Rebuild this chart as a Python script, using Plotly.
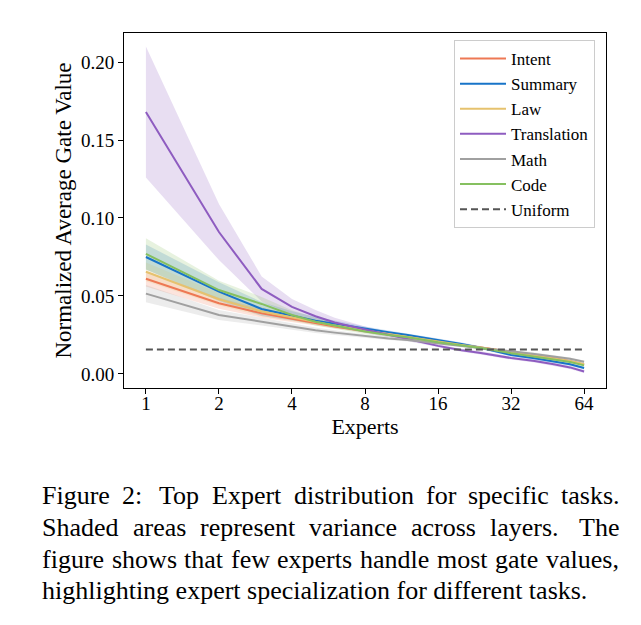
import plotly.graph_objects as go

# ---------------- data ----------------
experts = [1, 2, 3, 4, 5, 6, 8, 10, 12, 16, 20, 24, 32, 40, 48, 56, 64]

intent = [0.0610, 0.0453, 0.0389, 0.0355, 0.0325, 0.0305, 0.0275, 0.0253, 0.0238, 0.0205,
          0.0185, 0.0170, 0.0138, 0.0118, 0.0100, 0.0082, 0.0060]
summary = [0.0750, 0.0528, 0.0417, 0.0372, 0.0342, 0.0322, 0.0290, 0.0267, 0.0250, 0.0218,
           0.0192, 0.0168, 0.0122, 0.0100, 0.0080, 0.0062, 0.0038]
law = [0.0655, 0.0479, 0.0400, 0.0362, 0.0330, 0.0310, 0.0278, 0.0255, 0.0240, 0.0207,
       0.0186, 0.0170, 0.0139, 0.0119, 0.0100, 0.0083, 0.0062]
translation = [0.1680, 0.0910, 0.0545, 0.0430, 0.0370, 0.0330, 0.0285, 0.0250, 0.0225, 0.0180,
               0.0152, 0.0135, 0.0102, 0.0083, 0.0062, 0.0042, 0.0016]
math_ = [0.0515, 0.0378, 0.0335, 0.0303, 0.0280, 0.0265, 0.0242, 0.0228, 0.0218, 0.0198,
         0.0180, 0.0168, 0.0145, 0.0128, 0.0112, 0.0097, 0.0078]
code = [0.0770, 0.0538, 0.0449, 0.0378, 0.0335, 0.0310, 0.0272, 0.0250, 0.0235, 0.0203,
        0.0183, 0.0167, 0.0133, 0.0113, 0.0093, 0.0077, 0.0055]

# spread across layers (half-width of shaded band)
intent_sd = [0.0050, 0.0035, 0.0028, 0.0022, 0.0018, 0.0015, 0.0012, 0.0010, 0.0010, 0.0009,
             0.0008, 0.0008, 0.0008, 0.0008, 0.0008, 0.0008, 0.0008]
summary_sd = [0.0080, 0.0060, 0.0045, 0.0030, 0.0025, 0.0020, 0.0015, 0.0012, 0.0011, 0.0010,
              0.0009, 0.0009, 0.0009, 0.0009, 0.0009, 0.0009, 0.0009]
law_sd = [0.0060, 0.0040, 0.0030, 0.0024, 0.0019, 0.0016, 0.0013, 0.0011, 0.0010, 0.0009,
          0.0008, 0.0008, 0.0008, 0.0008, 0.0008, 0.0008, 0.0008]
translation_sd = [0.0420, 0.0180, 0.0080, 0.0050, 0.0040, 0.0030, 0.0020, 0.0015, 0.0012, 0.0010,
                  0.0010, 0.0010, 0.0010, 0.0010, 0.0010, 0.0010, 0.0010]
math_sd = [0.0055, 0.0032, 0.0025, 0.0020, 0.0018, 0.0015, 0.0012, 0.0011, 0.0010, 0.0009,
           0.0009, 0.0009, 0.0009, 0.0009, 0.0009, 0.0009, 0.0009]
code_sd = [0.0100, 0.0060, 0.0045, 0.0030, 0.0025, 0.0020, 0.0015, 0.0012, 0.0011, 0.0010,
           0.0009, 0.0009, 0.0009, 0.0009, 0.0009, 0.0009, 0.0009]

uniform_x = [1, 64]
uniform_y = [1 / 64, 1 / 64]

x_ticks = [1, 2, 4, 8, 16, 32, 64]
y_ticks = [0.00, 0.05, 0.10, 0.15, 0.20]

caption_lines = [
    "Figure 2:  Top Expert distribution for specific tasks.",
    "Shaded areas represent variance across layers.  The",
    "figure shows that few experts handle most gate values,",
    "highlighting expert specialization for different tasks.",
]

# ---------------- styling ----------------
FONT = "Liberation Serif, Times New Roman, serif"
series = [
    ("Intent", intent, intent_sd, (238, 120, 84)),
    ("Summary", summary, summary_sd, (24, 116, 200)),
    ("Law", law, law_sd, (230, 194, 110)),
    ("Translation", translation, translation_sd, (142, 92, 192)),
    ("Math", math_, math_sd, (160, 160, 160)),
    ("Code", code, code_sd, (134, 192, 96)),
]

W, H = 641, 625
L, R, T, B = 124, 606, 33, 388  # plot area in pixels

fig = go.Figure()

# shaded bands
for name, y, sd, c in series:
    lo = [v - s for v, s in zip(y, sd)]
    hi = [v + s for v, s in zip(y, sd)]
    fig.add_trace(go.Scatter(x=experts, y=lo, mode="lines", line=dict(width=0),
                             showlegend=False, hoverinfo="skip"))
    fig.add_trace(go.Scatter(x=experts, y=hi, mode="lines", line=dict(width=0),
                             fill="tonexty", fillcolor=f"rgba({c[0]},{c[1]},{c[2]},0.2)",
                             showlegend=False, hoverinfo="skip"))

# lines
for name, y, sd, c in series:
    fig.add_trace(go.Scatter(x=experts, y=y, mode="lines", name=name,
                             line=dict(color=f"rgb({c[0]},{c[1]},{c[2]})", width=2)))

fig.add_trace(go.Scatter(x=uniform_x, y=uniform_y, mode="lines", name="Uniform",
                         line=dict(color="#555555", width=2, dash="7px,4px")))

# ---------------- caption (justified by word placement) ----------------
CW = {' ': 250, '.': 250, ':': 278, ',': 250, '2': 500,
      'F': 556, 'T': 611, 'E': 611, 'S': 556,
      'a': 444, 'b': 500, 'c': 444, 'd': 500, 'e': 444, 'f': 333, 'g': 500, 'h': 500,
      'i': 278, 'j': 278, 'k': 500, 'l': 278, 'm': 778, 'n': 500, 'o': 500, 'p': 500,
      'q': 500, 'r': 333, 's': 389, 't': 278, 'u': 500, 'v': 500, 'w': 722, 'x': 500,
      'y': 500, 'z': 444}
CAP_SIZE = 26
CAP_LEFT, CAP_RIGHT = 40, 617
cap_y = [495, 527, 559, 590]


def tw(s):
    return sum(CW.get(ch, 500) for ch in s) / 1000 * CAP_SIZE


def px_to_paper_x(px):
    return (px - L) / (R - L)


def py_to_paper_y(py):
    return (B - py) / (B - T)


for i, line in enumerate(caption_lines):
    yp = py_to_paper_y(cap_y[i])
    if i == len(caption_lines) - 1:
        fig.add_annotation(text=line, x=px_to_paper_x(CAP_LEFT), y=yp, xref="paper", yref="paper",
                           xanchor="left", yanchor="middle", showarrow=False,
                           font=dict(family=FONT, size=CAP_SIZE, color="black"))
        continue
    words = line.split()
    widths = [tw(w) for w in words]
    weights = [1.4 if w[-1] in ".:" else 1.0 for w in words[:-1]]
    gap_unit = (CAP_RIGHT - CAP_LEFT - sum(widths)) / sum(weights)
    xpos = CAP_LEFT
    for j, w in enumerate(words):
        fig.add_annotation(text=w, x=px_to_paper_x(xpos), y=yp, xref="paper", yref="paper",
                           xanchor="left", yanchor="middle", showarrow=False,
                           font=dict(family=FONT, size=CAP_SIZE, color="black"))
        if j < len(words) - 1:
            xpos += widths[j] + gap_unit * weights[j]

axis_common = dict(showline=True, linecolor="black", linewidth=1, mirror=True,
                   ticks="outside", ticklen=5, tickwidth=1, tickcolor="black",
                   showgrid=False, zeroline=False,
                   tickfont=dict(family=FONT, size=19, color="black"))

fig.update_layout(
    width=W, height=H,
    margin=dict(l=L, r=W - R, t=T, b=H - B),
    paper_bgcolor="white", plot_bgcolor="white",
    xaxis=dict(type="log", range=[-0.3 * 0.30103, 6.3 * 0.30103],
               tickvals=x_ticks, ticktext=[str(v) for v in x_ticks],
               ticklabelstandoff=-7,
               title=dict(text="Experts", font=dict(family=FONT, size=22, color="black"),
                          standoff=0),
               **axis_common),
    yaxis=dict(range=[-0.009, 0.2186], tickvals=y_ticks,
               ticktext=[f"{v:.2f}" for v in y_ticks],
               title=dict(text="Normalized Average Gate Value",
                          font=dict(family=FONT, size=23, color="black"), standoff=2),
               **axis_common),
    legend=dict(x=px_to_paper_x(454), y=py_to_paper_y(40), xanchor="left", yanchor="top",
                bgcolor="white", bordercolor="#cccccc", borderwidth=1,
                font=dict(family=FONT, size=17, color="black"),
                traceorder="normal", itemwidth=46),
    showlegend=True,
)

fig.write_html("out.html")
